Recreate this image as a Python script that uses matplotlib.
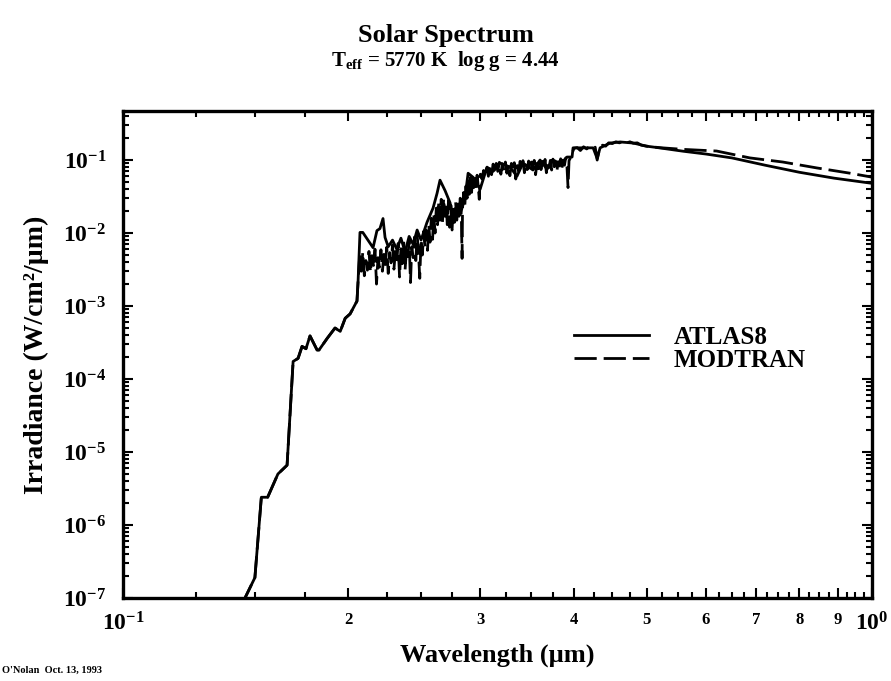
import matplotlib
matplotlib.use("Agg")
import matplotlib.pyplot as plt
from matplotlib.ticker import LogLocator, FixedLocator, NullFormatter

plt.rcParams['font.family'] = ['Liberation Serif', 'DejaVu Serif']
plt.rcParams['font.weight'] = 'bold'
plt.rcParams['mathtext.fontset'] = 'custom'
plt.rcParams['mathtext.rm'] = 'Liberation Serif:bold'
plt.rcParams['mathtext.bf'] = 'Liberation Serif:bold'
plt.rcParams['mathtext.it'] = 'Liberation Serif:bold:italic'

# UV edge, both models agree here (um, W/cm2/um)
uv_wl = [0.1445, 0.1455, 0.150, 0.153, 0.156, 0.161, 0.1656, 0.1687, 0.1713,
         0.1734, 0.1755, 0.1777, 0.1816, 0.1827, 0.1873, 0.1919, 0.195, 0.198,
         0.201, 0.2053, 0.206]
uv_irr = [8.0e-8, 1.0e-7, 1.9e-7, 2.4e-6, 2.4e-6, 5.0e-6, 6.6e-6, 1.74e-4, 1.92e-4,
          2.8e-4, 2.6e-4, 3.9e-4, 2.5e-4, 2.5e-4, 3.6e-4, 5.0e-4, 4.5e-4, 6.8e-4,
          7.8e-4, 1.17e-3, 2.2e-3]

atlas_wl = [0.2072, 0.209, 0.2157, 0.2183, 0.2203, 0.2224, 0.2238, 0.226, 0.229,
            0.232, 0.235, 0.238, 0.241, 0.244, 0.247, 0.250, 0.2546, 0.2594, 0.2626,
            0.265, 0.2692, 0.2733, 0.2759, 0.2793, 0.282, 0.2862, 0.2889, 0.2934,
            0.2998, 0.3062, 0.3119, 0.3187, 0.3287, 0.3357, 0.342, 0.3527, 0.3604,
            0.3682, 0.3751, 0.3832, 0.3916, 0.3977, 0.3989, 0.4114, 0.4243, 0.4296,
            0.4335, 0.447, 0.461, 0.48, 0.50, 0.52, 0.56, 0.60, 0.65, 0.72, 0.80,
            0.89, 1.0]
atlas_irr = [1.02e-2, 1.02e-2, 6.3e-3, 1.08e-2, 1.15e-2, 1.58e-2, 8.7e-3, 6.5e-3, 8.0e-3,
             6.0e-3, 8.5e-3, 5.5e-3, 9.0e-3, 7.0e-3, 1.1e-2, 8.0e-3, 1.4e-2, 2.2e-2, 3.5e-2,
             5.3e-2, 3.8e-2, 2.6e-2, 1.5e-2, 2.2e-2, 1.8e-2, 3.1e-2, 6.6e-2, 5.8e-2,
             4.0e-2, 8.0e-2, 7.0e-2, 9.1e-2, 8.0e-2, 6.0e-2, 9.1e-2, 7.3e-2, 1.0e-1,
             7.5e-2, 1.0e-1, 8.5e-2, 1.1e-1, 1.1e-1, 1.47e-1, 1.47e-1, 1.47e-1, 1.05e-1,
             1.47e-1, 1.71e-1, 1.77e-1, 1.71e-1, 1.55e-1, 1.47e-1, 1.32e-1, 1.21e-1,
             1.07e-1, 8.5e-2, 6.8e-2, 5.65e-2, 4.8e-2]

modtran_wl = [0.207, 0.208, 0.209, 0.210, 0.211, 0.212, 0.213, 0.214, 0.215, 0.216,
              0.217, 0.218, 0.219, 0.220, 0.221, 0.222, 0.223, 0.224, 0.225, 0.226,
              0.227, 0.228, 0.229, 0.230, 0.231, 0.232, 0.233, 0.234, 0.235, 0.236,
              0.237, 0.238, 0.239, 0.240, 0.241, 0.242, 0.243, 0.244, 0.245, 0.246,
              0.247, 0.248, 0.249, 0.250, 0.251, 0.252, 0.253, 0.254, 0.255, 0.256,
              0.257, 0.258, 0.259, 0.260, 0.261, 0.262, 0.263, 0.264, 0.265, 0.266,
              0.267, 0.268, 0.269, 0.270, 0.271, 0.272, 0.273, 0.274, 0.275, 0.276,
              0.277, 0.278, 0.279, 0.280, 0.281, 0.282, 0.283, 0.2836, 0.284, 0.285,
              0.286, 0.287, 0.288, 0.289, 0.290, 0.291, 0.292, 0.293, 0.294, 0.295,
              0.296, 0.297, 0.298, 0.299, 0.300,
              0.3015, 0.303, 0.3045, 0.306, 0.3075, 0.309, 0.3105, 0.312, 0.3135, 0.315,
              0.3165, 0.318, 0.3195, 0.321, 0.3225, 0.324, 0.3255, 0.327, 0.3285, 0.330,
              0.3315, 0.333, 0.3345, 0.336, 0.3375, 0.339, 0.3405, 0.342, 0.3435, 0.345,
              0.3465, 0.348, 0.3495, 0.351, 0.3525, 0.354, 0.3555, 0.357, 0.3585, 0.360,
              0.3615, 0.363, 0.3645, 0.366, 0.3675, 0.369, 0.3705, 0.372, 0.3735, 0.375,
              0.3765, 0.378, 0.3795, 0.381, 0.3825, 0.384, 0.3855, 0.387, 0.3885, 0.390,
              0.3915, 0.3928, 0.394, 0.3955, 0.397, 0.3985, 0.400,
              0.404, 0.408, 0.412, 0.416, 0.420, 0.424, 0.427,
              0.4296, 0.433, 0.437, 0.441, 0.445, 0.450, 0.455, 0.460, 0.465, 0.470,
              0.475, 0.480, 0.486, 0.492, 0.500, 0.52, 0.56, 0.62, 0.687, 0.76,
              0.844, 0.935, 1.0]
modtran_irr = [4.8e-3, 3.0e-3, 5.5e-3, 2.6e-3, 4.2e-3, 3.1e-3, 5.6e-3, 2.9e-3, 4.9e-3, 3.6e-3,
               6.0e-3, 2.0e-3, 4.6e-3, 3.4e-3, 5.9e-3, 3.0e-3, 5.1e-3, 3.7e-3, 6.4e-3, 2.8e-3,
               5.4e-3, 3.9e-3, 6.9e-3, 3.2e-3, 5.6e-3, 4.1e-3, 7.2e-3, 2.5e-3, 6.1e-3, 3.8e-3,
               7.6e-3, 3.1e-3, 5.8e-3, 4.4e-3, 8.0e-3, 2.1e-3, 6.5e-3, 4.6e-3, 8.8e-3, 4.2e-3,
               9.5e-3, 5.6e-3, 2.4e-3, 8.2e-3, 5.0e-3, 1.05e-2, 6.4e-3, 1.1e-2, 5.8e-3, 1.3e-2,
               7.5e-3, 1.6e-2, 8.2e-3, 1.8e-2, 1.0e-2, 2.2e-2, 1.3e-2, 2.7e-2, 1.5e-2, 2.9e-2,
               1.4e-2, 3.0e-2, 1.7e-2, 2.6e-2, 1.3e-2, 2.8e-2, 1.2e-2, 2.4e-2, 1.1e-2, 2.2e-2,
               1.4e-2, 2.7e-2, 1.5e-2, 2.5e-2, 1.7e-2, 3.0e-2, 1.6e-2, 4.5e-3, 2.2e-2, 3.6e-2,
               2.4e-2, 4.4e-2, 3.0e-2, 5.2e-2, 3.4e-2, 5.8e-2, 3.6e-2, 6.0e-2, 4.2e-2, 5.6e-2,
               3.8e-2, 6.2e-2, 4.4e-2, 2.9e-2, 6.4e-2,
               5.5e-2, 7.2e-2, 5.8e-2, 7.8e-2, 6.0e-2, 8.4e-2, 6.3e-2, 8.8e-2, 6.6e-2, 9.0e-2,
               7.0e-2, 9.3e-2, 6.4e-2, 8.9e-2, 7.1e-2, 9.4e-2, 6.6e-2, 8.7e-2, 6.1e-2, 9.0e-2,
               7.3e-2, 9.2e-2, 5.5e-2, 8.4e-2, 7.0e-2, 9.6e-2, 7.6e-2, 9.8e-2, 6.7e-2, 9.1e-2,
               7.4e-2, 9.7e-2, 7.2e-2, 9.4e-2, 7.7e-2, 9.9e-2, 6.3e-2, 9.0e-2, 7.6e-2, 1.0e-1,
               7.4e-2, 9.6e-2, 7.8e-2, 1.02e-1, 6.7e-2, 9.3e-2, 7.9e-2, 9.9e-2, 7.3e-2, 1.03e-1,
               8.1e-2, 9.7e-2, 6.9e-2, 9.5e-2, 8.3e-2, 1.04e-1, 7.8e-2, 1.0e-1, 8.5e-2, 1.07e-1,
               8.2e-2, 4.2e-2, 9.8e-2, 1.06e-1, 1.1e-1, 1.3e-1, 1.45e-1,
               1.48e-1, 1.35e-1, 1.52e-1, 1.42e-1, 1.55e-1, 1.45e-1, 1.5e-1,
               1.0e-1, 1.5e-1, 1.6e-1, 1.55e-1, 1.72e-1, 1.68e-1, 1.78e-1, 1.72e-1, 1.8e-1, 1.7e-1,
               1.78e-1, 1.7e-1, 1.72e-1, 1.6e-1, 1.55e-1, 1.48e-1, 1.4e-1, 1.33e-1, 1.07e-1, 9.4e-2,
               7.8e-2, 6.6e-2, 5.83e-2]

x_ticks = [0.1, 0.2, 0.3, 0.4, 0.5, 0.6, 0.7, 0.8, 0.9, 1.0]
x_labels = ['$10^{-1}$', '2', '3', '4', '5', '6', '7', '8', '9', '$10^{0}$']
y_ticks = [1e-7, 1e-6, 1e-5, 1e-4, 1e-3, 1e-2, 1e-1]
y_labels = ['$10^{-7}$', '$10^{-6}$', '$10^{-5}$', '$10^{-4}$', '$10^{-3}$', '$10^{-2}$', '$10^{-1}$']

fig = plt.figure(figsize=(8.91, 6.81), dpi=100)
ax = fig.add_axes([123 / 891, 83 / 681, 749 / 891, 487 / 681])

ax.plot(uv_wl + atlas_wl, uv_irr + atlas_irr, color='black', lw=2.0, label='ATLAS8')
ax.plot(uv_wl + modtran_wl, uv_irr + modtran_irr, color='black', lw=2.0,
        dashes=(8, 2.5), label='MODTRAN')

ax.set_xscale('log')
ax.set_yscale('log')
ax.set_xlim(0.1, 1.0)
ax.set_ylim(1e-7, 0.47)

ax.xaxis.set_major_locator(FixedLocator(x_ticks))
ax.set_xticklabels(x_labels)
minor_x = [0.1 + 0.025 * i for i in range(1, 36) if (i % 4) != 0]
ax.xaxis.set_minor_locator(FixedLocator(minor_x))
ax.xaxis.set_minor_formatter(NullFormatter())
ax.yaxis.set_major_locator(FixedLocator(y_ticks))
ax.set_yticklabels(y_labels)
ax.yaxis.set_minor_locator(LogLocator(base=10, subs=range(2, 10), numticks=20))
ax.yaxis.set_minor_formatter(NullFormatter())

ax.tick_params(which='both', direction='in', top=True, right=True, width=1.5)
ax.tick_params(which='major', length=7)
ax.tick_params(which='minor', length=4)
ax.tick_params(axis='y', which='major', labelsize=17, pad=12)
ax.tick_params(axis='x', which='major', labelsize=12, pad=10)
for lab in ax.get_xticklabels():
    if lab.get_text().startswith('$'):
        lab.set_fontsize(17)
for s in ax.spines.values():
    s.set_linewidth(2.4)

ax.set_xlabel('Wavelength (µm)', fontsize=19, fontweight='bold', labelpad=6)
ax.set_ylabel('Irradiance (W/cm²/µm)', fontsize=20, fontweight='bold', labelpad=10)

ax.legend(loc='upper left', bbox_to_anchor=(0.585, 0.585), frameon=False,
          handlelength=3.0, handletextpad=1.0, labelspacing=0.0,
          borderpad=0, prop={'weight': 'bold', 'size': 18})

fig.text(0.5, 0.948, 'Solar Spectrum', ha='center', va='center', fontsize=19, fontweight='bold')
fig.text(0.5, 0.91, r'T$_{\mathrm{eff}}$ = 5770 K  log g = 4.44', ha='center', va='center',
         fontsize=15, fontweight='bold')
fig.text(0.002, 0.012, "O'Nolan  Oct. 13, 1993", fontsize=7.5, fontweight='bold')

fig.savefig('out.png', dpi=100)
